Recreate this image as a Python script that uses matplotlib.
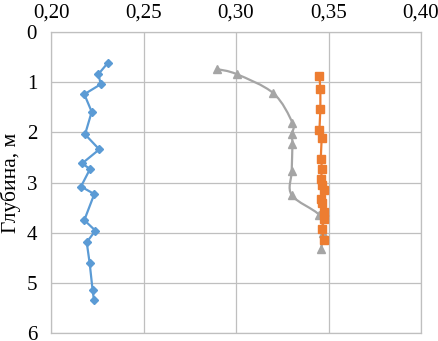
import numpy as np
import matplotlib.pyplot as plt
from matplotlib.path import Path
from matplotlib.patches import PathPatch
from matplotlib.ticker import FuncFormatter

# blue series (diamonds)
blue_x = [0.2306, 0.2256, 0.2269, 0.2180, 0.2220, 0.2184, 0.2261, 0.2168, 0.2211,
          0.2162, 0.2234, 0.2180, 0.2240, 0.2193, 0.2209, 0.2225, 0.2232]
blue_y = [0.62, 0.84, 1.04, 1.24, 1.59, 2.04, 2.34, 2.62, 2.73,
          3.08, 3.23, 3.75, 3.96, 4.19, 4.61, 5.15, 5.34]

# gray series (triangles, smoothed line)
gray_x = [0.2899, 0.3004, 0.3202, 0.3305, 0.3301, 0.3305, 0.3301, 0.3301, 0.3451, 0.3472, 0.3459]
gray_y = [0.74, 0.84, 1.22, 1.81, 2.04, 2.24, 2.78, 3.25, 3.65, 4.00, 4.33]

# orange series (squares)
orange_x = [0.3451, 0.3456, 0.3456, 0.3451, 0.3463, 0.3458, 0.3467, 0.3458,
            0.3463, 0.3474, 0.3458, 0.3467, 0.3478, 0.3474, 0.3463, 0.3474]
orange_y = [0.88, 1.14, 1.54, 1.95, 2.12, 2.54, 2.74, 2.92,
            3.05, 3.15, 3.33, 3.41, 3.58, 3.73, 3.93, 4.14]

BLUE = '#5B9BD5'
ORANGE = '#ED7D31'
GRAY = '#A5A5A5'

plt.rcParams['font.family'] = ['Liberation Serif', 'DejaVu Serif']

fig = plt.figure(figsize=(4.39, 3.41), dpi=100)
ax = fig.add_axes([0.1162, 0.0235, 0.8428, 0.8825])


def smooth_path(xs, ys):
    # excel-like smoothed line: catmull-rom as cubic bezier
    pts = np.column_stack([xs, ys])
    n = len(pts)
    verts = [pts[0]]
    codes = [Path.MOVETO]
    for i in range(n - 1):
        p0 = pts[max(i - 1, 0)]
        p1 = pts[i]
        p2 = pts[i + 1]
        p3 = pts[min(i + 2, n - 1)]
        c1 = p1 + (p2 - p0) / 6.0
        c2 = p2 - (p3 - p1) / 6.0
        verts += [c1, c2, p2]
        codes += [Path.CURVE4] * 3
    return Path(verts, codes)


ax.plot(blue_x, blue_y, color=BLUE, lw=1.6, marker='D', ms=4.5, zorder=3)

ax.add_patch(PathPatch(smooth_path(gray_x, gray_y), fill=False, edgecolor=GRAY, lw=1.6, zorder=3))
ax.plot(gray_x, gray_y, ls='none', marker='^', ms=6, color=GRAY, zorder=3)

ax.plot(orange_x, orange_y, color=ORANGE, lw=1.6, marker='s', ms=5.5, zorder=4)

ax.set_xlim(0.20, 0.40)
ax.set_ylim(6, 0)
ax.set_xticks([0.20, 0.25, 0.30, 0.35, 0.40])
ax.set_yticks(range(0, 7))
ax.xaxis.set_major_formatter(FuncFormatter(lambda v, p: f"{v:.2f}".replace('.', ',')))
ax.xaxis.tick_top()
ax.tick_params(length=0, labelsize=15)
ax.tick_params(axis='x', pad=7)
ax.tick_params(axis='y', pad=10)
ax.grid(True, color='#BFBFBF', lw=0.9)
ax.set_axisbelow(True)
for s in ax.spines.values():
    s.set_color('#BFBFBF')
    s.set_linewidth(0.9)

ax.set_ylabel('Глубина, м', fontsize=15.5)
ax.yaxis.set_label_coords(-0.08, 0.5)

fig.savefig('out.png', dpi=100)
